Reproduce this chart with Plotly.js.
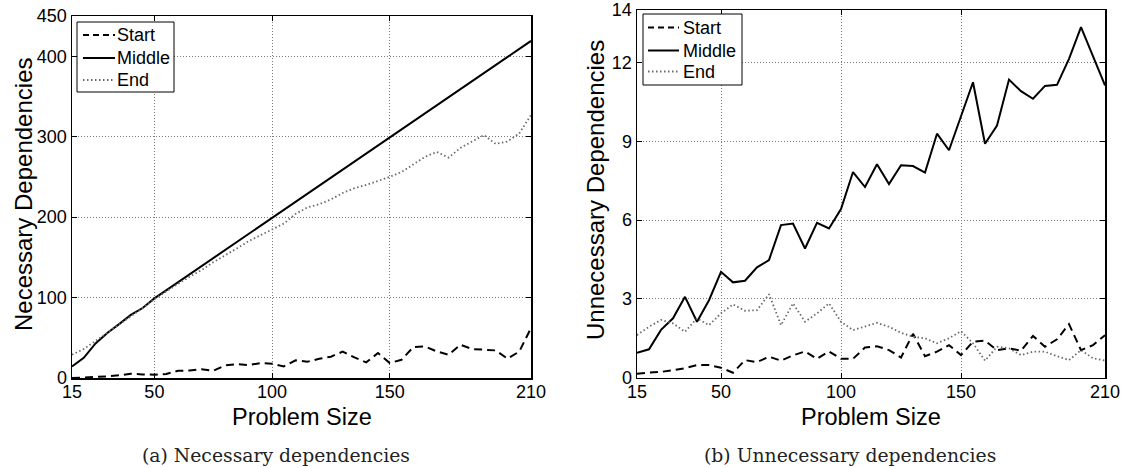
<!DOCTYPE html>
<html>
<head>
<meta charset="utf-8">
<script src="https://cdn.plot.ly/plotly-3.0.1.min.js"></script>
<style>
  html, body { margin: 0; padding: 0; background: #fff; }
  #chart { width: 1122px; height: 468px; }
</style>
</head>
<body>
<div id="chart"></div>
<script>
// Problem sizes on the horizontal axis
const problemSizes = [15, 20, 25, 30, 35, 40, 45, 50, 55, 60, 65, 70, 75, 80, 85, 90, 95, 100, 105, 110,
                      115, 120, 125, 130, 135, 140, 145, 150, 155, 160, 165, 170, 175, 180, 185, 190, 195, 200, 205, 210];

// (a) Necessary dependencies
const necStart = [0, 0.4, 1.2, 2, 3.3, 5.3, 4.5, 4.1, 5, 8.9, 9.3, 11, 9, 15.6, 17.3, 16, 18.6, 17.8, 14.4, 21.9,
                  20.2, 23.9, 26.5, 32.8, 25.6, 19.4, 31, 18.6, 22.7, 38.4, 39.2, 33, 28.9, 41.3, 36, 35.1, 34.3, 24, 32.8, 62];
const necMiddle = [14.4, 25, 43, 56, 67, 78.5, 87, 99, 109, 119, 129, 139, 149, 159, 169, 179, 189, 199, 209, 219,
                   229, 239, 249, 259, 269, 279, 289, 299, 309, 319, 329, 339, 349, 359, 369, 379, 389, 399, 409, 419];
const necEnd = [29, 36, 46, 56, 66, 77, 87, 98, 108, 117, 126, 134, 144, 152, 161, 170, 177, 184, 192, 204,
                212, 216, 222, 230, 236, 240, 245, 250, 256, 266, 275, 281, 274, 286, 294, 302, 291, 294, 304, 327];

// (b) Unnecessary dependencies
const unnStart = [0.15, 0.2, 0.22, 0.3, 0.36, 0.48, 0.48, 0.38, 0.19, 0.67, 0.59, 0.8, 0.65, 0.85, 1.0, 0.72, 1.0, 0.72, 0.72, 1.15,
                  1.2, 1.05, 0.77, 1.67, 0.82, 0.99, 1.24, 0.86, 1.37, 1.41, 1.05, 1.12, 1.03, 1.59, 1.18, 1.46, 2.04, 1.05, 1.24, 1.62];
const unnMiddle = [0.95, 1.08, 1.82, 2.26, 3.08, 2.13, 2.95, 4.03, 3.63, 3.69, 4.2, 4.48, 5.81, 5.87, 4.92, 5.9, 5.68, 6.42, 7.83, 7.26,
                   8.13, 7.37, 8.09, 8.06, 7.81, 9.29, 8.66, 9.96, 11.25, 8.91, 9.6, 11.35, 10.91, 10.62, 11.11, 11.15, 12.14, 13.35, 12.27, 11.13];
const unnEnd = [1.62, 1.94, 2.2, 2.07, 1.75, 2.26, 2.0, 2.45, 2.79, 2.55, 2.57, 3.18, 2.0, 2.83, 2.13, 2.45, 2.83, 2.13, 1.81, 1.94,
                2.09, 1.94, 1.71, 1.56, 1.5, 1.31, 1.5, 1.77, 1.31, 0.65, 1.18, 1.12, 0.86, 0.99, 0.99, 0.82, 0.67, 1.05, 0.74, 0.65];

// Tick positions and labels
const xTicks = [15, 50, 100, 150, 210];
const yTicksNec = [0, 100, 200, 300, 400, 450];
const yTicksUnn = [0, 3, 6, 9, 12, 14];

const seriesNames = ['Start', 'Middle', 'End'];
const panelTitles = ['Necessary Dependencies', 'Unnecessary Dependencies'];
const xTitle = 'Problem Size';
const captions = ['(a) Necessary dependencies', '(b) Unnecessary dependencies'];

const W = 1122, H = 468;
const px = v => v / W;          // horizontal pixel -> paper
const py = v => 1 - v / H;      // vertical pixel (from top) -> paper

const SANS = 'Liberation Sans, Arial, Helvetica, sans-serif';
const SERIF = 'DejaVu Serif, Liberation Serif, serif';

const lineStyles = [
  { color: '#000', width: 2, dash: '8px,5px' },
  { color: '#000', width: 2, dash: 'solid' },
  { color: '#6a6a6a', width: 1.8, dash: '1.5px,2.5px' }
];

function makeTraces(values, xa, ya) {
  return values.map((ys, i) => ({
    type: 'scatter',
    mode: 'lines',
    x: problemSizes,
    y: ys,
    name: seriesNames[i],
    xaxis: xa,
    yaxis: ya,
    showlegend: false,
    line: lineStyles[i],
    hoverinfo: 'x+y+name'
  }));
}

const traces = [
  ...makeTraces([necStart, necMiddle, necEnd], 'x', 'y'),
  ...makeTraces([unnStart, unnMiddle, unnEnd], 'x2', 'y2')
];

function axisStyle(extra) {
  return Object.assign({
    showline: true,
    linecolor: '#000',
    linewidth: 1.5,
    mirror: 'allticks',
    ticks: 'inside',
    ticklen: 5,
    tickwidth: 1,
    tickcolor: '#000',
    showgrid: true,
    gridcolor: '#7a7a7a',
    griddash: '1px,2px',
    gridwidth: 1,
    zeroline: false,
    tickmode: 'array',
    tickfont: { family: SANS, size: 18, color: '#000' },
    automargin: false,
    fixedrange: true
  }, extra);
}

// Boxed key in the top-left corner of each panel: frame, line samples and names
function legendBox(box, rowsY, sampleX, textX) {
  const shapes = [{
    type: 'rect', xref: 'paper', yref: 'paper', layer: 'above',
    x0: px(box[0]), x1: px(box[2]), y0: py(box[3]), y1: py(box[1]),
    fillcolor: '#fff', line: { color: '#000', width: 1 }
  }];
  const notes = [];
  seriesNames.forEach((name, i) => {
    shapes.push({
      type: 'line', xref: 'paper', yref: 'paper', layer: 'above',
      x0: px(sampleX[0]), x1: px(sampleX[1]), y0: py(rowsY[i]), y1: py(rowsY[i]),
      line: { color: lineStyles[i].color, width: lineStyles[i].width, dash: i === 0 ? '6px,4px' : lineStyles[i].dash }
    });
    notes.push({
      text: name, xref: 'paper', yref: 'paper', x: px(textX), y: py(rowsY[i]),
      xanchor: 'left', yanchor: 'middle', showarrow: false, borderpad: 0,
      font: { family: SANS, size: 18, color: '#000' }
    });
  });
  return { shapes, notes };
}

const keyA = legendBox([77, 22, 174, 92], [35, 58, 80], [83, 115], 116);
const keyB = legendBox([643, 14, 742, 85], [27.5, 50.5, 71.5], [648, 679], 682);

const annText = (text, x, y, opts) => Object.assign({
  text, x, y, xref: 'paper', yref: 'paper', showarrow: false,
  xanchor: 'center', yanchor: 'middle'
}, opts);

const layout = {
  width: W,
  height: H,
  margin: { l: 0, r: 0, t: 0, b: 0 },
  paper_bgcolor: '#fff',
  plot_bgcolor: '#fff',
  showlegend: false,
  xaxis: axisStyle({ domain: [px(72), px(531)], range: [15, 210], tickvals: xTicks, ticktext: xTicks.map(String), anchor: 'y', ticklabelstandoff: -3 }),
  yaxis: axisStyle({ domain: [py(378), py(16)], range: [0, 450], tickvals: yTicksNec, ticktext: yTicksNec.map(String), anchor: 'x' }),
  xaxis2: axisStyle({ domain: [px(637), px(1105)], range: [15, 210], tickvals: xTicks, ticktext: xTicks.map(String), anchor: 'y2', ticklabelstandoff: -3 }),
  yaxis2: axisStyle({ domain: [py(377.7), py(10)], range: [0, 14], tickvals: yTicksUnn, ticktext: yTicksUnn.map(String), anchor: 'x2' }),
  shapes: [...keyA.shapes, ...keyB.shapes],
  annotations: [
    ...keyA.notes,
    ...keyB.notes,
    annText(panelTitles[0], px(23), py(195), { textangle: -90, font: { family: SANS, size: 24, color: '#000' } }),
    annText(panelTitles[1], px(595), py(190), { textangle: -90, font: { family: SANS, size: 24, color: '#000' } }),
    annText(xTitle, px(301.5), py(417), { font: { family: SANS, size: 23.5, color: '#000' } }),
    annText(xTitle, px(871), py(417), { font: { family: SANS, size: 23.5, color: '#000' } }),
    annText(captions[0], px(276), py(455), { font: { family: SERIF, size: 18.8, color: '#222' } }),
    annText(captions[1], px(850), py(455), { font: { family: SERIF, size: 18.8, color: '#222' } })
  ]
};

Plotly.newPlot('chart', traces, layout, { staticPlot: true, displayModeBar: false });
</script>
</body>
</html>
